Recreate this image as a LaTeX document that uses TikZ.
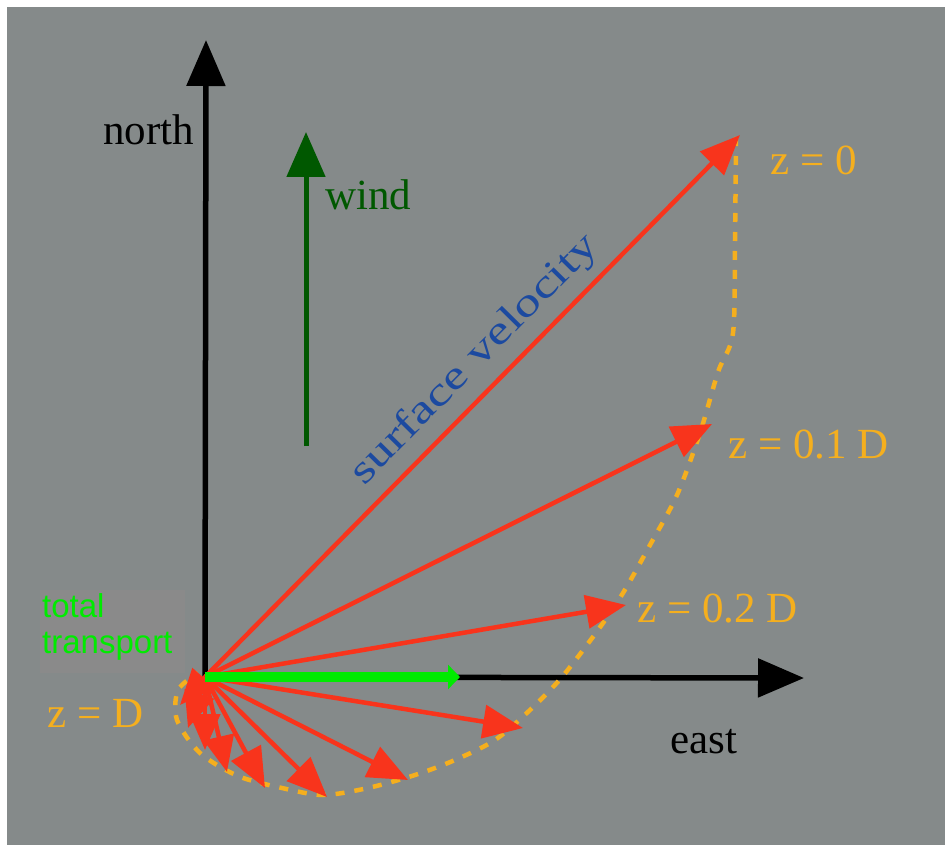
\documentclass[tikz,border=0pt]{standalone}
\usepackage{fontspec}
\setmainfont{Liberation Serif}
\newfontfamily\ttsans{Liberation Sans}
\usetikzlibrary{arrows.meta}
\definecolor{bggray}{RGB}{133,138,138}
\definecolor{boxgray}{RGB}{138,138,138}
\definecolor{vred}{RGB}{248,52,28}
\definecolor{zorange}{RGB}{245,175,30}
\definecolor{windgreen}{RGB}{0,88,0}
\definecolor{ttgreen}{RGB}{0,235,0}
\definecolor{svblue}{RGB}{28,74,160}
\begin{document}
\begin{tikzpicture}[x=1pt,y=-1pt,
  lbl/.style={inner sep=0pt,anchor=base west,font=\fontsize{43}{50}\selectfont},
  zlbl/.style={lbl,text=zorange},
  axis/.style={line width=5.5pt,draw=black,-{Triangle[length=46pt,width=38pt]}},
  windarrow/.style={line width=5pt,draw=windgreen,-{Triangle[length=45pt,width=38pt]}},
  vel/.style={line width=4.5pt,draw=vred,-{Triangle[length=40pt,width=33pt]}},
  velsmall/.style={line width=4.5pt,draw=vred,-{Triangle[length=36pt,width=30pt]}},
  spiral/.style={line width=4.5pt,draw=zorange,dash pattern=on 9pt off 10pt},
  ttarrow/.style={line width=10pt,draw=ttgreen,-{Triangle[length=12pt,width=24pt]}},
  ttbox/.style={fill=boxgray,inner sep=0pt,anchor=north west,minimum width=145pt,minimum height=83pt},
  ttlbl/.style={inner sep=0pt,anchor=base west,text=ttgreen,font=\ttsans\fontsize{33}{38}\selectfont}]
\useasboundingbox (0,0) rectangle (945,845);
\fill[white] (0,0) rectangle (945,845);
\fill[bggray] (7,7) rectangle (945,845);
% total transport box
\node[ttbox] (box) at (40,590) {};
\node[ttlbl] (ttotal) at (42,617) {total};
\node[ttlbl] (ttrans) at (42,653) {transport};
% coordinates
\coordinate (O) at (205,677);
\coordinate (Ntip) at (206,40);
\coordinate (Etip) at (804,678);
\coordinate (Wbot) at (306,446);
\coordinate (Wtip) at (306,132);
\coordinate (TTtip) at (460,677);
\coordinate (t0) at (740,135);
\coordinate (t1) at (712,424);
\coordinate (t2) at (626,605);
\coordinate (t3) at (523,728);
\coordinate (t4) at (408,780);
\coordinate (t5) at (327,797);
\coordinate (t6) at (265,788);
\coordinate (t7) at (227,772);
\coordinate (t8) at (205,750);
\coordinate (t9) at (188,728);
\coordinate (t10) at (180,705);
% axes
\draw[axis] (O) -- (Ntip);
\draw[axis] (O) -- (Etip);
\node[lbl] (north) at (103,145) {north};
\node[lbl] (east) at (670,753) {east};
% wind
\draw[windarrow] (Wbot) -- (Wtip);
\node[lbl,text=windgreen] (wind) at (325,210) {wind};
% spiral curve
\draw[spiral] plot[smooth,tension=0.5] coordinates {(736,137) (735,240) (733,333) (718,372) (700,433) (677,495) (650,545) (623,593) (598,630) (562,677) (530,710) (495,740) (455,760) (415,775) (368,788) (323,795) (282,788) (238,776) (200,753) (177,720) (178,690) (198,673)};
% velocity arrows
\draw[velsmall] (O) -- (t10);
\draw[velsmall] (O) -- (t9);
\draw[velsmall] (O) -- (t8);
\draw[velsmall] (O) -- (t7);
\draw[vel] (O) -- (t6);
\draw[vel] (O) -- (t5);
\draw[vel] (O) -- (t4);
\draw[vel] (O) -- (t3);
\draw[vel] (O) -- (t2);
\draw[vel] (O) -- (t1);
\draw[vel] (O) -- (t0);
% total transport
\draw[ttarrow] (O) -- (TTtip);
% labels
\node[rotate=45.4,text=svblue,inner sep=0pt,font=\fontsize{40}{46}\selectfont] (sv) at (475,360) {\scalebox{1.32}[1]{surface velocity}};
\node[zlbl] (z0) at (770,175) {z = 0};
\node[zlbl] (z1) at (728,458) {z = 0.1 D};
\node[zlbl] (z2) at (637,622) {z = 0.2 D};
\node[zlbl] (zD) at (47,727) {z = D};
\end{tikzpicture}
\end{document}
